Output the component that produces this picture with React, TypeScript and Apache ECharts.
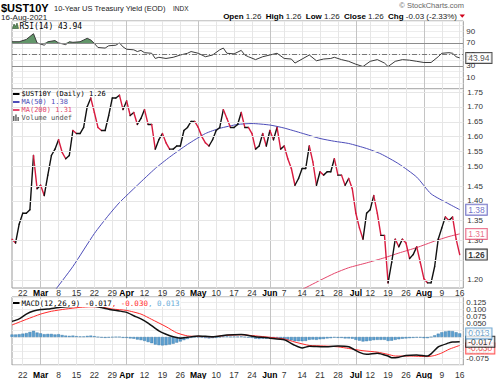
import React, { useEffect, useRef } from 'react';
import * as echarts from 'echarts';

const HOLIDAYS = ['2021-04-02', '2021-05-31', '2021-07-05'];
const MONTH_NAMES = ['Jan', 'Feb', 'Mar', 'Apr', 'May', 'Jun', 'Jul', 'Aug', 'Sep', 'Oct', 'Nov', 'Dec'];

// Daily closes, 17-Feb-2021 .. 16-Aug-2021 (trading days)
const PRICE = [
  1.30, 1.29, 1.34, 1.37, 1.37, 1.38, 1.54, 1.44,
  1.45, 1.42, 1.48, 1.54, 1.56,
  1.59, 1.55, 1.53, 1.54, 1.62,
  1.61, 1.61, 1.63, 1.70, 1.73,
  1.68, 1.63, 1.62, 1.62, 1.67,
  1.73, 1.73, 1.74, 1.69,
  1.72, 1.67, 1.68, 1.64, 1.66,
  1.69, 1.64, 1.64, 1.56, 1.59,
  1.61, 1.58, 1.56, 1.56, 1.57,
  1.57, 1.62, 1.63, 1.65, 1.65,
  1.63, 1.60, 1.58, 1.57, 1.59,
  1.62, 1.63, 1.69, 1.66, 1.63,
  1.63, 1.64, 1.68, 1.63, 1.63,
  1.61, 1.56, 1.57, 1.61, 1.57,
  1.62, 1.59, 1.63, 1.56,
  1.57, 1.53, 1.50, 1.45, 1.47,
  1.50, 1.50, 1.57, 1.52, 1.45,
  1.49, 1.48, 1.49, 1.49, 1.53,
  1.48, 1.48, 1.45, 1.47, 1.44,
  1.37, 1.33, 1.30, 1.37,
  1.38, 1.42, 1.37, 1.31, 1.31,
  1.19, 1.24, 1.30, 1.28, 1.30,
  1.29, 1.25, 1.26, 1.28, 1.24,
  1.20, 1.19, 1.19, 1.23, 1.30,
  1.33, 1.36, 1.35, 1.36, 1.30,
  1.26,
];

// [trading-day index, value]
const MA50 = [
  [12, 1.172], [17, 1.23], [23, 1.315], [27, 1.365], [30, 1.40], [35, 1.45], [40, 1.50],
  [44, 1.535], [49, 1.575], [54, 1.61], [58, 1.627], [63, 1.64], [67, 1.643], [72, 1.638],
  [76, 1.628], [81, 1.611], [86, 1.594], [90, 1.585], [94, 1.578], [99, 1.562], [103, 1.545],
  [108, 1.514], [113, 1.474], [117, 1.425], [122, 1.396], [125, 1.38],
];
const MA200 = [
  [81, 1.174], [86, 1.196], [90, 1.213], [94, 1.227], [99, 1.239], [104, 1.252],
  [108, 1.264], [113, 1.278], [118, 1.295], [122, 1.307], [125, 1.314],
];

const RSI = [
  [0, 72], [2, 72], [4, 76], [6, 86], [7, 70], [9, 66], [10, 72], [12, 74], [13, 70], [15, 67],
  [16, 72], [17, 71], [19, 72], [20, 75], [21, 78], [22, 75], [23, 69], [24, 62], [26, 61],
  [27, 65], [29, 66], [30, 70], [31, 63], [32, 59], [34, 58], [35, 55], [36, 57], [37, 53],
  [39, 52], [40, 43], [41, 45], [43, 43], [45, 45], [47, 49], [49, 52], [50, 55], [52, 52],
  [54, 46], [56, 49], [58, 58], [59, 61], [60, 52], [62, 51], [64, 57], [65, 49], [66, 46],
  [68, 41], [70, 46], [72, 49], [74, 52], [76, 43], [78, 42], [79, 35], [81, 42], [83, 49],
  [85, 39], [87, 42], [89, 43], [90, 45], [92, 41], [94, 38], [96, 33], [98, 29], [100, 38],
  [102, 41], [104, 35], [105, 29], [107, 38], [109, 41], [111, 40], [113, 38], [115, 36],
  [117, 36], [119, 46], [120, 52], [122, 53], [123, 52], [124, 46], [125, 43.94],
];

const MACD = [
  [0, 0.056], [2, 0.065], [4, 0.082], [6, 0.093], [8, 0.098], [10, 0.100], [12, 0.104],
  [15, 0.108], [18, 0.110], [21, 0.112], [23, 0.111], [25, 0.105], [27, 0.099], [30, 0.093],
  [32, 0.088], [34, 0.076], [36, 0.065], [38, 0.050], [41, 0.022], [43, 0.010], [45, 0.001],
  [47, -0.004], [49, -0.001], [52, 0.004], [56, 0.001], [60, 0.007], [64, 0.009], [68, 0.001],
  [72, -0.004], [76, -0.010], [79, -0.030], [81, -0.039], [83, -0.033], [87, -0.035],
  [91, -0.032], [94, -0.035], [97, -0.055], [99, -0.062], [102, -0.058], [105, -0.068],
  [106, -0.074], [108, -0.072], [110, -0.066], [113, -0.064], [116, -0.068], [117, -0.060],
  [119, -0.035], [120, -0.030], [122, -0.021], [123, -0.018], [125, -0.017],
];
const SIGNAL = [
  [0, 0.043], [4, 0.063], [8, 0.082], [11, 0.092], [15, 0.100], [19, 0.106], [22, 0.108],
  [25, 0.107], [28, 0.100], [32, 0.095], [36, 0.082], [39, 0.063], [43, 0.037], [46, 0.015],
  [49, 0.004], [52, 0.002], [56, 0.001], [60, 0.006], [64, 0.008], [68, 0.004], [72, -0.001],
  [76, -0.007], [79, -0.018], [83, -0.030], [87, -0.032], [91, -0.035], [94, -0.041],
  [98, -0.049], [102, -0.054], [105, -0.062], [107, -0.068], [111, -0.068], [116, -0.070],
  [118, -0.066], [120, -0.057], [122, -0.044], [125, -0.030],
];
const HIST = [
  0.009, 0.009, 0.010, 0.012, 0.014, 0.018, 0.022, 0.016,
  0.013, 0.010, 0.011, 0.011, 0.009,
  0.010, 0.007, 0.005, 0.004, 0.005,
  0.003, 0.002, 0.002, 0.004, 0.005,
  0.003, 0.000, -0.002, -0.003, -0.002,
  -0.001, 0.000, 0.000, -0.003,
  -0.003, -0.005, -0.006, -0.009, -0.011,
  -0.014, -0.018, -0.022, -0.027, -0.029,
  -0.030, -0.029, -0.027, -0.024, -0.020,
  -0.016, -0.011, -0.007, -0.003, -0.001,
  -0.001, -0.002, -0.004, -0.005, -0.004,
  -0.003, -0.001, 0.002, 0.002, 0.001,
  0.001, 0.001, 0.002, 0.000, -0.002,
  -0.003, -0.006, -0.007, -0.006, -0.006,
  -0.004, -0.004, -0.003, -0.006,
  -0.008, -0.010, -0.012, -0.015, -0.015,
  -0.015, -0.014, -0.010, -0.009, -0.010,
  -0.008, -0.007, -0.005, -0.004, -0.002,
  -0.003, -0.003, -0.005, -0.005, -0.006,
  -0.010, -0.013, -0.016, -0.015,
  -0.013, -0.011, -0.010, -0.010, -0.010,
  -0.014, -0.013, -0.010, -0.008, -0.006,
  -0.005, -0.004, -0.003, -0.002, -0.002,
  -0.004, -0.004, 0.000, 0.006, 0.012,
  0.017, 0.020, 0.022, 0.021, 0.017,
  0.013,
];

const PRICE_TICKS = [1.20, 1.25, 1.30, 1.35, 1.40, 1.45, 1.50, 1.55, 1.60, 1.65, 1.70, 1.75];
const PRICE_HIDDEN_LABELS = [1.25]; // covered by the last-value tag
const RSI_TICKS = [10, 30, 50, 70, 90];
const MACD_LABELS = [0.125, 0.1, 0.075, 0.05, 0.025, -0.05, -0.075];

const SANS = '"Liberation Sans", Arial, sans-serif';
const MONO = '"DejaVu Sans Mono", monospace';
const RED = '#d81b3f';
const MA50_C = '#4c4cb8';
const MA200_C = '#e4476c';
const SIG_C = '#ff2a2a';
const HIST_C = '#5b9fd0';

function buildDates(): string[] {
  const out: string[] = [];
  const d = new Date(Date.UTC(2021, 1, 17));
  const end = Date.UTC(2021, 7, 16);
  while (d.getTime() <= end) {
    const wd = d.getUTCDay();
    const s = d.toISOString().slice(0, 10);
    if (wd !== 0 && wd !== 6 && HOLIDAYS.indexOf(s) < 0) out.push(s);
    d.setUTCDate(d.getUTCDate() + 1);
  }
  return out;
}

function txt(x: number, y: number, text: string, size: number, o: any = {}) {
  return {
    type: 'text', x, y, z: 100, silent: true,
    style: {
      text, fontSize: size, fontFamily: o.mono ? MONO : SANS,
      fontWeight: o.bold ? 'bold' : 'normal', fill: o.color || '#000',
      align: o.align || 'left', verticalAlign: 'middle', ...(o.extra || {}),
    },
  };
}

function buildOption() {
  const dates = buildDates();
  const cats = dates.concat(['2021-08-17']);
  const labels = new Map<string, { text: string; month: boolean }>();
  let prevMonth = Number(dates[0].slice(5, 7));
  for (let i = 1; i < dates.length; i++) {
    const wd = new Date(dates[i] + 'T00:00:00Z').getUTCDay();
    const pw = new Date(dates[i - 1] + 'T00:00:00Z').getUTCDay();
    if (wd < pw) {
      const m = Number(dates[i].slice(5, 7));
      const dd = Number(dates[i].slice(8, 10));
      if (m !== prevMonth) labels.set(dates[i], { text: MONTH_NAMES[m - 1], month: true });
      else labels.set(dates[i], { text: String(dd), month: false });
      prevMonth = m;
    }
  }
  const splitColors = cats.filter((c) => labels.has(c)).map((c) => (labels.get(c)!.month ? '#c4c4c4' : '#e6e6e6'));
  const intervalFn = (_i: number, v: string) => labels.has(v);

  const mkX = (gridIndex: number, showLabel: boolean, margin: number) => ({
    type: 'category', gridIndex, data: cats, boundaryGap: false,
    axisLine: { show: false }, axisTick: { show: false },
    axisLabel: {
      show: showLabel, interval: intervalFn, margin, fontSize: 8.5, color: '#333', fontFamily: SANS,
      formatter: (v: string) => {
        const l = labels.get(v);
        if (!l) return '';
        return l.month ? `{m|${l.text}}` : l.text;
      },
      rich: { m: { fontWeight: 'bold', color: '#000', fontSize: 8.5, fontFamily: SANS } },
    },
    splitLine: { show: true, interval: intervalFn, lineStyle: { color: splitColors, width: 1 } },
  });

  const lnMin = Math.log(1.1776);
  const lnMax = Math.log(1.762);

  const box = (value: number[], text: string, color: string, bold = false, dy = 0) => ({
    value,
    label: {
      show: true, position: 'right', distance: 6, formatter: text, color, offset: [0, dy],
      fontSize: 8.5, fontFamily: SANS, fontWeight: bold ? 'bold' : 'normal',
      backgroundColor: '#fff', borderColor: color, borderWidth: 1, padding: [1, 2, 0, 2], lineHeight: 9,
    },
  });

  const graphic: any[] = [
    txt(1, 8, '$UST10Y', 11, { bold: true }),
    txt(54, 8.5, '10-Year US Treasury Yield (EOD)', 7.5, { color: '#222' }),
    txt(173, 8.5, 'INDX', 6.5, { color: '#222' }),
    txt(1, 17, '16-Aug-2021', 8, { color: '#222' }),
    txt(464, 5, '\u00A9 StockCharts.com', 7.5, { color: '#666', align: 'right' }),
    {
      type: 'text', x: 457, y: 16.5, z: 100, silent: true,
      style: {
        text: '{b|Open} 1.26  {b|High} 1.26  {b|Low} 1.26  {b|Close} 1.26  {b|Chg} -0.03 (-2.33%)',
        fontSize: 8, fontFamily: SANS, fill: '#222', align: 'right', verticalAlign: 'middle',
        rich: { b: { fontWeight: 'bold', fontSize: 8, fontFamily: SANS, fill: '#000' } },
      },
    },
    { type: 'polygon', z: 100, silent: true, shape: { points: [[459.5, 14.5], [465, 14.5], [462.25, 17.8]] }, style: { fill: '#d0021b' } },
    // RSI label
    { type: 'polygon', z: 100, silent: true, shape: { points: [[12.5, 28.5], [14, 24], [15.5, 26.5], [17, 23], [18.5, 28.5]] }, style: { fill: '#5e915e', stroke: '#2c4d2c', lineWidth: 0.6 } },
    txt(19.5, 26, 'RSI(14) 43.94', 8, { mono: true }),
    // price legend
    { type: 'line', z: 100, silent: true, shape: { x1: 13, y1: 94, x2: 19.5, y2: 94 }, style: { stroke: '#000', lineWidth: 2 } },
    txt(21.5, 94, '$UST10Y (Daily) 1.26', 7, { mono: true }),
    { type: 'line', z: 100, silent: true, shape: { x1: 13, y1: 102, x2: 19.5, y2: 102 }, style: { stroke: MA50_C, lineWidth: 2 } },
    txt(21.5, 102, 'MA(50) 1.38', 7, { mono: true, color: MA50_C }),
    { type: 'line', z: 100, silent: true, shape: { x1: 13, y1: 110, x2: 19.5, y2: 110 }, style: { stroke: MA200_C, lineWidth: 2 } },
    txt(21.5, 110, 'MA(200) 1.31', 7, { mono: true, color: MA200_C }),
    { type: 'rect', z: 100, silent: true, shape: { x: 13, y: 116, width: 1.5, height: 5 }, style: { fill: '#666' } },
    { type: 'rect', z: 100, silent: true, shape: { x: 15.2, y: 114.5, width: 1.5, height: 6.5 }, style: { fill: '#666' } },
    { type: 'rect', z: 100, silent: true, shape: { x: 17.4, y: 117, width: 1.5, height: 4 }, style: { fill: '#666' } },
    txt(21.5, 118, 'Volume undef', 7, { mono: true, color: '#555' }),
    // MACD legend
    { type: 'line', z: 100, silent: true, shape: { x1: 13, y1: 303, x2: 19.5, y2: 303 }, style: { stroke: '#000', lineWidth: 2 } },
    {
      type: 'text', x: 21.5, y: 303, z: 100, silent: true,
      style: {
        text: '{k|MACD(12,26,9) -0.017}{r|, -0.030}{c|, 0.013}',
        fontSize: 7.5, fontFamily: MONO, verticalAlign: 'middle', backgroundColor: '#fff', padding: [0, 1, 0, 0],
        rich: {
          k: { fill: '#000', fontSize: 7.5, fontFamily: MONO },
          r: { fill: SIG_C, fontSize: 7.5, fontFamily: MONO },
          c: { fill: '#6aaad6', fontSize: 7.5, fontFamily: MONO },
        },
      },
    },
  ];

  return {
    animation: false,
    backgroundColor: '#fff',
    graphic,
    grid: [
      { left: 12, top: 21, width: 451.3, height: 68, show: true, borderColor: '#9a9a9a', borderWidth: 1, backgroundColor: '#fff' },
      { left: 12, top: 89, width: 451.3, height: 199, show: true, borderColor: '#9a9a9a', borderWidth: 1, backgroundColor: '#fff' },
      { left: 12, top: 297, width: 451.3, height: 71, show: true, borderColor: '#9a9a9a', borderWidth: 1, backgroundColor: '#fff' },
    ],
    xAxis: [mkX(0, false, 0), mkX(1, true, 0.5), mkX(2, true, 5)],
    yAxis: [
      {
        type: 'value', gridIndex: 0, position: 'right', min: -10, max: 108, interval: 10,
        axisLine: { show: false }, axisTick: { show: false },
        axisLabel: { margin: 3, fontSize: 8, color: '#333', fontFamily: SANS, formatter: (v: number) => (RSI_TICKS.indexOf(v) >= 0 ? String(v) : '') },
        splitLine: { show: true, lineStyle: { color: '#ededed' } },
      },
      {
        type: 'value', gridIndex: 1, position: 'right', min: lnMin, max: lnMax,
        axisLine: { show: false }, axisTick: { show: false }, axisLabel: { show: false }, splitLine: { show: false },
      },
      {
        type: 'value', gridIndex: 2, position: 'right', min: -0.1, max: 0.143, interval: 0.025,
        axisLine: { show: false }, axisTick: { show: false },
        axisLabel: {
          margin: 3, fontSize: 8, color: '#333', fontFamily: SANS,
          formatter: (v: number) => {
            const hit = MACD_LABELS.find((t) => Math.abs(t - v) < 1e-6);
            return hit === undefined ? '' : hit.toFixed(3);
          },
        },
        splitLine: { show: true, lineStyle: { color: '#ededed' } },
      },
    ],
    series: [
      // RSI
      {
        type: 'line', xAxisIndex: 0, yAxisIndex: 0, stack: 'rsi', data: RSI.map(([i]) => [i, 70]),
        showSymbol: false, lineStyle: { width: 0, opacity: 0 }, silent: true, z: 1,
      },
      {
        type: 'line', xAxisIndex: 0, yAxisIndex: 0, stack: 'rsi', data: RSI.map(([i, v]) => [i, Math.max(v, 70) - 70]),
        showSymbol: false, lineStyle: { width: 0, opacity: 0 }, areaStyle: { color: '#62966a', opacity: 1 }, silent: true, z: 1,
      },
      {
        type: 'line', xAxisIndex: 0, yAxisIndex: 0, data: RSI, showSymbol: false, z: 3,
        lineStyle: { color: '#3a3a3a', width: 1 },
        markLine: {
          silent: true, symbol: ['none', 'none'], label: { show: false },
          data: [
            { yAxis: 70, lineStyle: { color: '#8c8c8c', width: 1, type: 'solid' } },
            { yAxis: 30, lineStyle: { color: '#8c8c8c', width: 1, type: 'solid' } },
            { yAxis: 50, lineStyle: { color: '#777', width: 1, type: [5, 2, 1, 2] } },
          ],
        },
      },
      {
        type: 'scatter', xAxisIndex: 0, yAxisIndex: 0, symbolSize: 1, itemStyle: { color: 'rgba(0,0,0,0)' }, z: 10,
        data: [box([125, 43.94], '43.94', '#222')],
      },
      // Price panel
      {
        type: 'line', xAxisIndex: 1, yAxisIndex: 1, data: MA200.map(([i, v]) => [i, Math.log(v)]),
        showSymbol: false, smooth: 0.2, lineStyle: { color: MA200_C, width: 1 }, z: 2,
        markLine: {
          silent: true, symbol: ['none', 'none'],
          lineStyle: { color: '#e6e6e6', width: 1, type: 'solid' },
          label: { show: true, position: 'end', distance: 4, color: '#333', fontSize: 8, fontFamily: SANS },
          data: PRICE_TICKS.map((t) => ({
            yAxis: Math.log(t),
            label: { show: PRICE_HIDDEN_LABELS.indexOf(t) < 0, formatter: t.toFixed(2) },
          })),
        },
      },
      {
        type: 'line', xAxisIndex: 1, yAxisIndex: 1, data: MA50.map(([i, v]) => [i, Math.log(v)]),
        showSymbol: false, smooth: 0.2, lineStyle: { color: MA50_C, width: 1 }, z: 3,
      },
      {
        type: 'custom', xAxisIndex: 1, yAxisIndex: 1, z: 4,
        data: PRICE.map((v, i) => [i, Math.log(v), Math.log(i > 0 ? PRICE[i - 1] : v)]),
        encode: { x: 0, y: 1 },
        renderItem: (_p: any, api: any) => {
          const i = api.value(0) as number;
          if (!(i > 0)) return null;
          const cur = api.value(1) as number;
          const prev = api.value(2) as number;
          const a = api.coord([i - 1, prev]);
          const b = api.coord([i, cur]);
          return {
            type: 'line',
            shape: { x1: a[0], y1: a[1], x2: b[0], y2: b[1] },
            style: { stroke: cur < prev - 1e-9 ? RED : '#111', lineWidth: 1.4, lineCap: 'round' },
          };
        },
      },
      {
        type: 'scatter', xAxisIndex: 1, yAxisIndex: 1, symbolSize: 1, itemStyle: { color: 'rgba(0,0,0,0)' }, z: 10,
        data: [
          box([125, Math.log(1.38)], '1.38', MA50_C),
          box([125, Math.log(1.314)], '1.31', MA200_C),
          box([125, Math.log(1.26)], '1.26', '#000', true),
        ],
      },
      // MACD panel
      {
        type: 'bar', xAxisIndex: 2, yAxisIndex: 2, data: HIST, barWidth: 3, z: 2,
        itemStyle: { color: HIST_C, borderColor: '#3373a3', borderWidth: 0.4 },
      },
      {
        type: 'line', xAxisIndex: 2, yAxisIndex: 2, data: SIGNAL, showSymbol: false, smooth: 0.2, z: 3,
        lineStyle: { color: SIG_C, width: 1 },
      },
      {
        type: 'line', xAxisIndex: 2, yAxisIndex: 2, data: MACD, showSymbol: false, smooth: 0.2, z: 4,
        lineStyle: { color: '#111', width: 1.5 },
      },
      {
        type: 'scatter', xAxisIndex: 2, yAxisIndex: 2, symbolSize: 1, itemStyle: { color: 'rgba(0,0,0,0)' }, z: 10,
        data: [
          box([125, -0.030], '-0.030', SIG_C, false, 3),
          box([125, -0.017], '-0.017', '#000'),
          box([125, 0.013], '0.013', '#4a90c4'),
        ],
      },
    ],
  };
}

export default function App() {
  const ref = useRef<HTMLDivElement>(null);
  useEffect(() => {
    document.body.style.margin = '0';
    const chart = echarts.init(ref.current!, null, { renderer: 'svg' });
    chart.setOption(buildOption() as any);
    return () => chart.dispose();
  }, []);
  return <div ref={ref} style={{ width: 500, height: 379 }} />;
}
